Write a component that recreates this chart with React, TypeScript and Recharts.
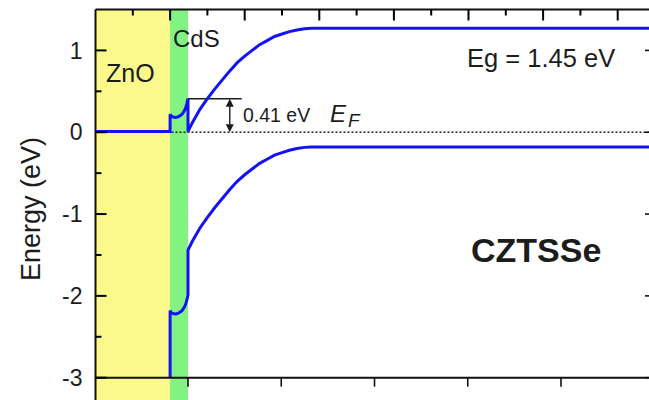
import React from 'react';
import {
  ComposedChart,
  Line,
  XAxis,
  YAxis,
  ReferenceArea,
  ReferenceLine,
} from 'recharts';

// Band diagram of ZnO / CdS / CZTSSe: depth in nm, energy in eV (E_F = 0)
const depthNm = [
  0, 100,
  100, 101, 104, 107, 110, 113, 116, 119, 121, 122.5, 124,
  124, 130, 140, 150, 160, 170, 180, 190, 200, 210, 220, 230, 240, 250, 260, 270, 280, 290, 300, 320, 750,
];
const conductionBand = [
  0.01, 0.01,
  0.22, 0.2, 0.185, 0.18, 0.185, 0.2, 0.22, 0.26, 0.3, 0.35, 0.41,
  0.01, 0.12, 0.28, 0.41, 0.53, 0.64, 0.75, 0.85, 0.93, 1.0, 1.07, 1.12, 1.17, 1.2, 1.23, 1.25, 1.265, 1.27, 1.27, 1.27, 1.27,
];
const valenceBand = [
  -3.29, -3.29,
  -2.18, -2.2, -2.215, -2.22, -2.215, -2.2, -2.18, -2.14, -2.1, -2.05, -1.99,
  -1.44, -1.33, -1.17, -1.04, -0.92, -0.81, -0.7, -0.6, -0.52, -0.45, -0.38, -0.33, -0.28, -0.25, -0.22, -0.2, -0.185, -0.18, -0.18, -0.18, -0.18,
];

// layer boundaries (nm)
const layers = [
  { name: 'ZnO', from: 0, to: 100, color: '#fcf98c' },
  { name: 'CdS', from: 100, to: 124, color: '#82f282' },
];

const cbOffset = 0.41; // spike at CdS/CZTSSe
const cbOffsetFrom = 124;
const cbOffsetTo = 196;
const arrowAt = 180;

const energyTicks = [-3, -2, -1, 0, 1];
const energyMinor = [-2.5, -1.5, -0.5, 0.5];
const depthTop = [100, 200, 300, 400, 500, 600, 700];
const depthTopMinor = [50, 150, 250, 350, 450, 550, 650];
const depthBottom = [124, 249, 374, 499, 624];

const X_DOMAIN: [number, number] = [0, 750];
const Y_DOMAIN: [number, number] = [-3, 1.5];
const BAND_BOTTOM = -3.3;

// plot box (px), same numbers the chart margins/axis widths produce
const PLOT_LEFT = 95.5;
const PLOT_TOP = 9.5;
const PLOT_W = 559.5;
const PLOT_H = 368.2;
const toPx = (x: number) => PLOT_LEFT + ((x - X_DOMAIN[0]) / (X_DOMAIN[1] - X_DOMAIN[0])) * PLOT_W;
const toPy = (e: number) => PLOT_TOP + ((Y_DOMAIN[1] - e) / (Y_DOMAIN[1] - Y_DOMAIN[0])) * PLOT_H;

const FONT = '"Liberation Sans", Arial, Helvetica, sans-serif';
const INK = '#1c1c1c';
const BLUE = '#1212f5';

const cbData = depthNm.map((x, i) => ({ x, e: conductionBand[i] }));
const vbData = depthNm.map((x, i) => ({ x, e: valenceBand[i] }));

// tick marks only, no numbers
const NoLabel = () => <g />;

const DoubleArrow = (props: any) => {
  const { x1, y1, x2, y2 } = props;
  const top = Math.min(y1, y2);
  const bot = Math.max(y1, y2);
  const x = x1;
  const hl = 8;
  const hw = 4;
  return (
    <g>
      <line x1={x} x2={x2} y1={top + hl - 1} y2={bot - hl + 1} stroke={INK} strokeWidth={1.4} />
      <polygon points={`${x},${top} ${x - hw},${top + hl} ${x + hw},${top + hl}`} fill={INK} />
      <polygon points={`${x},${bot} ${x - hw},${bot - hl} ${x + hw},${bot - hl}`} fill={INK} />
    </g>
  );
};

const axisStroke = { stroke: '#111', strokeWidth: 2 };
const tickStroke = { stroke: '#111', strokeWidth: 1.6 };

export default function App() {
  return (
    <div
      style={{
        position: 'fixed',
        left: 0,
        top: 0,
        width: 649,
        height: 400,
        overflow: 'hidden',
        background: '#fff',
      }}
    >
      <ComposedChart
        width={660}
        height={410}
        margin={{ top: 8.5, right: 5, bottom: 31.3, left: 0 }}
        style={{ overflow: 'visible' }}
      >
        {layers.map((l) => (
          <ReferenceArea
            key={l.name}
            xAxisId="b"
            yAxisId="e"
            x1={l.from}
            x2={l.to}
            y1={BAND_BOTTOM}
            y2={Y_DOMAIN[1]}
            fill={l.color}
            fillOpacity={1}
            stroke="none"
            ifOverflow="visible"
          />
        ))}

        {/* bottom axis (ticks point outwards) */}
        <XAxis
          xAxisId="b"
          type="number"
          dataKey="x"
          domain={X_DOMAIN}
          allowDataOverflow
          ticks={depthBottom}
          tick={NoLabel}
          tickSize={9}
          height={1}
          axisLine={axisStroke}
          tickLine={tickStroke}
        />
        <XAxis
          xAxisId="t"
          orientation="top"
          type="number"
          domain={X_DOMAIN}
          allowDataOverflow
          ticks={[]}
          tick={false}
          height={1}
          axisLine={axisStroke}
          tickLine={false}
        />

        <YAxis
          yAxisId="e"
          type="number"
          domain={Y_DOMAIN}
          allowDataOverflow
          ticks={energyTicks}
          width={95.5}
          axisLine={false}
          tickLine={false}
          tickSize={0}
          tickMargin={13}
          tick={{ fontSize: 23, fill: INK, fontFamily: FONT }}
        />
        <YAxis
          yAxisId="r"
          orientation="right"
          type="number"
          domain={Y_DOMAIN}
          allowDataOverflow
          ticks={energyTicks}
          mirror
          width={1}
          tick={NoLabel}
          tickSize={10}
          axisLine={axisStroke}
          tickLine={tickStroke}
        />
        <YAxis
          yAxisId="rm"
          orientation="right"
          type="number"
          domain={Y_DOMAIN}
          allowDataOverflow
          ticks={energyMinor}
          mirror
          width={1}
          tick={NoLabel}
          tickSize={5}
          axisLine={false}
          tickLine={tickStroke}
        />

        {/* left frame runs down past the -3 line */}
        <ReferenceLine
          xAxisId="b"
          yAxisId="e"
          segment={[
            { x: 0, y: BAND_BOTTOM },
            { x: 0, y: Y_DOMAIN[1] },
          ]}
          stroke="#111"
          strokeWidth={2}
          ifOverflow="visible"
        />

        {/* Fermi level */}
        <ReferenceLine
          xAxisId="b"
          yAxisId="e"
          y={0}
          stroke="#222"
          strokeWidth={1.5}
          strokeDasharray="2 2"
        />

        <ReferenceLine
          xAxisId="b"
          yAxisId="e"
          segment={[
            { x: cbOffsetFrom, y: cbOffset },
            { x: cbOffsetTo, y: cbOffset },
          ]}
          stroke={INK}
          strokeWidth={1.5}
        />
        <ReferenceLine
          xAxisId="b"
          yAxisId="e"
          segment={[
            { x: arrowAt, y: 0 },
            { x: arrowAt, y: cbOffset },
          ]}
          shape={DoubleArrow}
        />

        <Line
          xAxisId="b"
          yAxisId="e"
          data={cbData}
          dataKey="e"
          type="linear"
          stroke={BLUE}
          strokeWidth={3}
          dot={false}
          activeDot={false}
          isAnimationActive={false}
        />
        <Line
          xAxisId="b"
          yAxisId="e"
          data={vbData}
          dataKey="e"
          type="linear"
          stroke={BLUE}
          strokeWidth={3}
          dot={false}
          activeDot={false}
          isAnimationActive={false}
        />
      </ComposedChart>

      {/* inward frame ticks and text annotations, above the layer bands */}
      <svg
        width={649}
        height={400}
        style={{ position: 'absolute', left: 0, top: 0, pointerEvents: 'none' }}
      >
        <g stroke="#000" strokeWidth={2}>
          {energyTicks.map((v) => (
            <line key={`l${v}`} x1={PLOT_LEFT} x2={PLOT_LEFT + 11} y1={toPy(v)} y2={toPy(v)} />
          ))}
          {energyMinor.map((v) => (
            <line key={`lm${v}`} x1={PLOT_LEFT} x2={PLOT_LEFT + 6} y1={toPy(v)} y2={toPy(v)} />
          ))}
          {depthTop.map((v) => (
            <line key={`t${v}`} x1={toPx(v)} x2={toPx(v)} y1={PLOT_TOP} y2={PLOT_TOP + 11} />
          ))}
          {depthTopMinor.map((v) => (
            <line key={`tm${v}`} x1={toPx(v)} x2={toPx(v)} y1={PLOT_TOP} y2={PLOT_TOP + 6} />
          ))}
        </g>
        <g fontFamily={FONT} fill={INK}>
          <text x={106} y={82} fontSize={25}>ZnO</text>
          <text x={173} y={47} fontSize={24}>CdS</text>
          <text x={467} y={67} fontSize={25.5}>Eg = 1.45 eV</text>
          <text x={243} y={122} fontSize={19.5}>0.41 eV</text>
          <text x={330} y={122} fontSize={24} fontStyle="italic">E</text>
          <text x={348} y={127} fontSize={19} fontStyle="italic">F</text>
          <text x={471} y={262} fontSize={34} fontWeight="bold">CZTSSe</text>
          <text
            x={40}
            y={209}
            fontSize={27}
            textAnchor="middle"
            transform="rotate(-90, 40, 209)"
          >
            Energy (eV)
          </text>
        </g>
      </svg>
    </div>
  );
}
